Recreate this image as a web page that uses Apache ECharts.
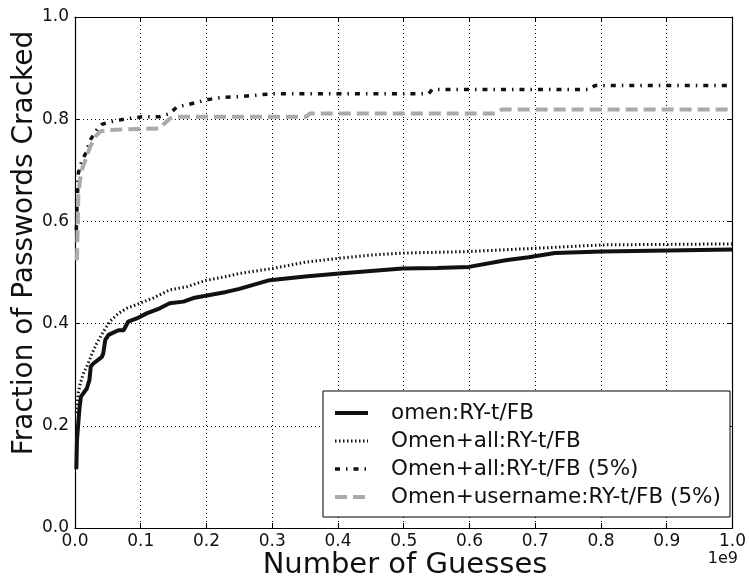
<!DOCTYPE html>
<html>
<head>
<meta charset="utf-8">
<script src="https://cdn.jsdelivr.net/npm/echarts@6/dist/echarts.min.js"></script>
<style>
  html, body { margin: 0; padding: 0; background: #fff; }
  #chart { width: 749px; height: 579px; }
</style>
</head>
<body>
<div id="chart"></div>
<script>
// x values are in units of 1e9 guesses (as on the axis)
const xTicks = [0, 0.1, 0.2, 0.3, 0.4, 0.5, 0.6, 0.7, 0.8, 0.9, 1.0];
const yTicks = [0, 0.2, 0.4, 0.6, 0.8, 1.0];
const seriesNames = [
  "omen:RY-t/FB",
  "Omen+all:RY-t/FB",
  "Omen+all:RY-t/FB (5%)",
  "Omen+username:RY-t/FB (5%)",
];

const omenX = [0.002, 0.003, 0.005, 0.007, 0.009, 0.018, 0.022, 0.024, 0.028, 0.041, 0.043, 0.046, 0.051, 0.066, 0.074, 0.081, 0.094, 0.109, 0.129, 0.144, 0.165, 0.18, 0.205, 0.23, 0.25, 0.296, 0.35, 0.402, 0.45, 0.498, 0.55, 0.599, 0.655, 0.69, 0.73, 0.801, 0.902, 1.0];
const omenY = [0.115, 0.172, 0.205, 0.237, 0.257, 0.273, 0.29, 0.316, 0.322, 0.335, 0.342, 0.368, 0.378, 0.387, 0.387, 0.404, 0.41, 0.42, 0.43, 0.44, 0.443, 0.45, 0.456, 0.462, 0.468, 0.485, 0.492, 0.498, 0.503, 0.508, 0.509, 0.511, 0.524, 0.53, 0.538, 0.541, 0.543, 0.545];

const allX = [0.002, 0.003, 0.005, 0.008, 0.013, 0.018, 0.026, 0.033, 0.043, 0.053, 0.066, 0.079, 0.099, 0.119, 0.144, 0.17, 0.2, 0.23, 0.25, 0.301, 0.35, 0.402, 0.45, 0.498, 0.599, 0.695, 0.801, 0.9, 1.0];
const allY = [0.225, 0.237, 0.264, 0.283, 0.303, 0.316, 0.342, 0.361, 0.384, 0.404, 0.42, 0.43, 0.44, 0.45, 0.466, 0.472, 0.485, 0.492, 0.498, 0.508, 0.52, 0.528, 0.534, 0.538, 0.541, 0.547, 0.554, 0.555, 0.556];

const all5X = [0.002, 0.003, 0.005, 0.011, 0.017, 0.023, 0.033, 0.041, 0.053, 0.079, 0.104, 0.129, 0.144, 0.155, 0.17, 0.2, 0.225, 0.25, 0.301, 0.538, 0.543, 0.781, 0.791, 1.0];
const all5Y = [0.583, 0.626, 0.694, 0.72, 0.735, 0.759, 0.779, 0.79, 0.795, 0.801, 0.805, 0.805, 0.811, 0.824, 0.828, 0.838, 0.843, 0.844, 0.85, 0.85, 0.858, 0.858, 0.866, 0.866];

const user5X = [0.003, 0.005, 0.007, 0.01, 0.016, 0.023, 0.031, 0.038, 0.053, 0.129, 0.134, 0.144, 0.155, 0.352, 0.357, 0.639, 0.649, 1.0];
const user5Y = [0.524, 0.65, 0.675, 0.7, 0.72, 0.746, 0.766, 0.776, 0.779, 0.782, 0.789, 0.801, 0.805, 0.805, 0.811, 0.811, 0.819, 0.819];

const zip = (xs, ys) => xs.map((x, i) => [x, ys[i]]);

const FONT = "DejaVu Sans";
const chart = echarts.init(document.getElementById("chart"));

const styles = [
  { color: "#111", width: 4, type: "solid" },
  { color: "#111", width: 3, type: [1.5, 2.5] },
  { color: "#111", width: 3.5, type: [5, 6, 1.5, 6] },
  { color: "#aaa", width: 4, type: [12, 6] },
];
const dataSets = [zip(omenX, omenY), zip(allX, allY), zip(all5X, all5Y), zip(user5X, user5Y)];

const baseX = {
  type: "value",
  min: 0,
  max: 1,
  interval: 0.1,
  axisLine: { show: true, onZero: false, lineStyle: { color: "#000", width: 1.2 } },
  axisTick: { show: true, inside: true, length: 5, lineStyle: { color: "#000" } },
  splitLine: { show: false },
};
const baseY = {
  type: "value",
  min: 0,
  max: 1,
  interval: 0.2,
  axisLine: { show: true, onZero: false, lineStyle: { color: "#000", width: 1.2 } },
  axisTick: { show: true, inside: true, length: 5, lineStyle: { color: "#000" } },
  splitLine: { show: false },
};

// legend drawn by hand so the line samples keep their dash patterns
const legendLeft = 323, legendTop = 391, rowGap = 28;
const legendGraphics = [
  {
    type: "rect",
    shape: { x: legendLeft, y: legendTop, width: 407, height: 126 },
    style: { fill: "#fff", stroke: "#000", lineWidth: 1 },
    z: 100,
  },
];
seriesNames.forEach((name, i) => {
  const y = legendTop + 22 + i * rowGap;
  legendGraphics.push({
    type: "line",
    shape: { x1: legendLeft + 12, y1: y, x2: legendLeft + 45, y2: y },
    style: { stroke: styles[i].color, lineWidth: styles[i].width, lineDash: styles[i].type === "solid" ? null : styles[i].type },
    z: 101,
  });
  legendGraphics.push({
    type: "text",
    x: legendLeft + 68,
    y: y,
    style: { text: name, font: "21.5px '" + FONT + "'", fill: "#111", verticalAlign: "middle" },
    z: 101,
  });
});

chart.setOption({
  animation: false,
  backgroundColor: "#fff",
  textStyle: { fontFamily: FONT },
  grid: { left: 75, right: 15, top: 17, bottom: 51 },
  xAxis: [
    {
      ...baseX,
      position: "bottom",
      axisLabel: {
        color: "#111",
        fontSize: 17,
        margin: 5,
        formatter: (v) => (xTicks.includes(Math.round(v * 10) / 10) ? v.toFixed(1) : ""),
      },
      splitLine: { show: true, lineStyle: { color: "#000", width: 1, type: [1, 3] } },
    },
    { ...baseX, position: "top", axisLabel: { show: false } },
  ],
  yAxis: [
    {
      ...baseY,
      position: "left",
      axisLabel: {
        color: "#111",
        fontSize: 17,
        margin: 6,
        formatter: (v) => (yTicks.includes(Math.round(v * 10) / 10) ? v.toFixed(1) : ""),
      },
      splitLine: { show: true, lineStyle: { color: "#000", width: 1, type: [1, 3] } },
    },
    { ...baseY, position: "right", axisLabel: { show: false } },
  ],
  series: seriesNames.map((name, i) => ({
    name: name,
    type: "line",
    xAxisIndex: 0,
    yAxisIndex: 0,
    data: dataSets[i],
    showSymbol: false,
    lineStyle: { color: styles[i].color, width: styles[i].width, type: styles[i].type },
  })),
  graphic: [
    {
      type: "text",
      x: 405,
      y: 565,
      style: {
        text: "Number of Guesses",
        font: "29px '" + FONT + "'",
        fill: "#111",
        align: "center",
        verticalAlign: "middle",
      },
    },
    {
      type: "text",
      x: 25,
      y: 243,
      rotation: Math.PI / 2,
      style: {
        text: "Fraction of Passwords Cracked",
        font: "28px '" + FONT + "'",
        fill: "#111",
        align: "center",
        verticalAlign: "middle",
      },
    },
    {
      type: "text",
      x: 738,
      y: 559,
      style: {
        text: "1e9",
        font: "16px '" + FONT + "'",
        fill: "#111",
        align: "right",
        verticalAlign: "middle",
      },
    },
    ...legendGraphics,
  ],
});
</script>
</body>
</html>
